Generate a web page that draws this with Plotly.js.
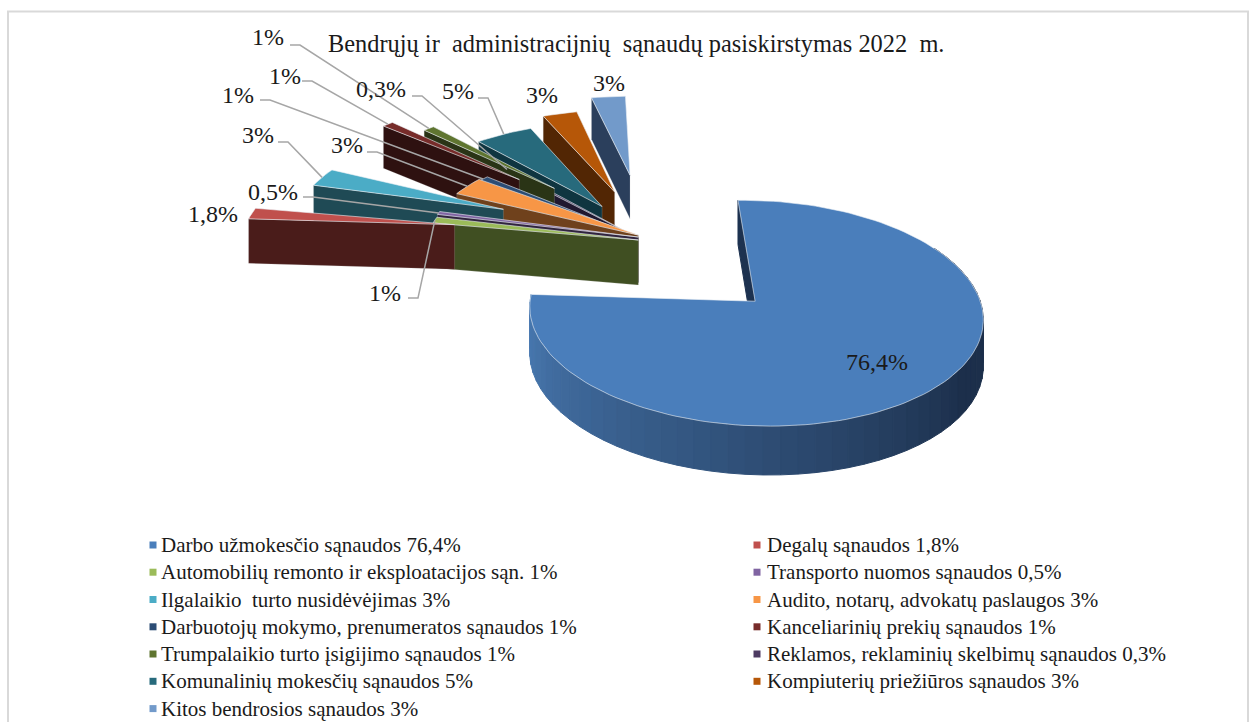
<!DOCTYPE html>
<html><head><meta charset="utf-8">
<script src="https://cdn.plot.ly/plotly-3.0.1.min.js"></script>
<style>html,body{margin:0;padding:0;background:#fff;overflow:hidden}#c{width:1256px;height:722px}</style>
</head><body><div id="c"></div>
<script>
const categories = ["Darbo užmokesčio sąnaudos","Degalų sąnaudos","Automobilių remonto ir eksploatacijos sąn.","Transporto nuomos sąnaudos","Ilgalaikio\u00a0 turto nusidėvėjimas","Audito, notarų, advokatų paslaugos","Darbuotojų mokymo, prenumeratos sąnaudos","Kanceliarinių prekių sąnaudos","Trumpalaikio turto įsigijimo sąnaudos","Reklamos, reklaminių skelbimų sąnaudos","Komunalinių mokesčių sąnaudos","Kompiuterių priežiūros sąnaudos","Kitos bendrosios sąnaudos"];
const values = [76.4,1.8,1,0.5,3,3,1,1,1,0.3,5,3,3];
const valueLabels = ["76,4%","1,8%","1%","0,5%","3%","3%","1%","1%","1%","0,3%","5%","3%","3%"];
const topColors = ["#4a7ebb","#c0504d","#9bbb59","#8064a2","#4bacc6","#f79646","#2c4d75","#772c2a","#5f7530","#4d3b62","#276a7c","#b65708","#729aca"];
const sideColors = ["#1d3250","#4a1c1a","#404f22","#30243e","#1f4a55","#6f411c","#1a2c44","#2e1110","#2a3416","#201830","#0f3540","#522604","#2b3f5c"];
// explosion of each slice on the pie's plane (radius units), like a 2-D "pull"
const explodeU = [0.547,-0.85,0.03,0.03,-0.626,0.03,0.03,-0.566,-0.386,0.03,-0.146,-0.086,-0.01];
const explodeV = [-0.5825,0.157,0,0.03,0.32,0.05,0.03,0.65,0.55,0.02,0.35,0.51,0.70];
// data-label anchor and leader-line start (null = no leader)
const labelX = [877,213,385,273,258,347,238,285,268,381,458,542,609];
const labelY = [362,214,293,192,135,145,95,76,37,89,91,95,83];
const leaderX = [null,null,408,303,278,367,260,302,290,412,478,null,null];
const leaderY = [null,null,298,197,142,152,100,81,45,96,98,null,null];
const leaderStep = 10;

const serif = '"Liberation Serif","Times New Roman",serif';
const Cx=632, Cy=240, A=212, B=99, k=0.1, D0=45, firstAngle=-1.5;
const rad=d=>d*Math.PI/180;
function proj(u,V,z){const s=1/(1+k*V);return [Cx+A*u*s, Cy-B*V*s+(z||0)*D0/(1+0.05*V)];}
function arcPt(i,deg,z){return proj(explodeU[i]+Math.sin(rad(deg)),explodeV[i]+Math.cos(rad(deg)),z);}
function apex(i,z){return proj(explodeU[i],explodeV[i],z);}
function lerpHex(a,b,t){const pa=[1,3,5].map(j=>parseInt(a.substr(j,2),16)),pb=[1,3,5].map(j=>parseInt(b.substr(j,2),16));
  return 'rgb('+pa.map((v,j)=>Math.round(v+(pb[j]-v)*t)).join(',')+')';}
function poly(pts,color,line,w){return {type:'scatter',mode:'lines',x:pts.map(p=>p[0]).concat(pts[0][0]),y:pts.map(p=>p[1]).concat(pts[0][1]),
  fill:'toself',fillcolor:color,line:{color:line||color,width:w==null?1:w},hoverinfo:'skip',showlegend:false};}

let ang=firstAngle; const starts=[],ends=[];
values.forEach((v)=>{starts.push(ang);ang+=v*3.6;ends.push(ang);});
const traces=[];
function topFace(i){const pts=[apex(i)];const n=Math.max(2,Math.ceil((ends[i]-starts[i])/2));
  for(let j=0;j<=n;j++)pts.push(arcPt(i,starts[i]+(ends[i]-starts[i])*j/n));
  return poly(pts,topColors[i],'rgba(235,240,245,0.75)',0.8);}
// small slices back to front
for(let i=values.length-1;i>=1;i--){
  const a0=apex(i),a1=apex(i,1),s0=arcPt(i,starts[i]),s1=arcPt(i,starts[i],1);
  traces.push(poly([a0,s0,s1,a1],sideColors[i],'rgba(200,200,200,0.35)',0.6));
  traces.push(topFace(i));
}
// main slice: start-edge wall, shaded rim, top
{const a0=apex(0),a1=apex(0,1),s0=arcPt(0,starts[0]),s1=arcPt(0,starts[0],1);
 traces.push(poly([a0,s0,s1,a1],sideColors[0]));
 const step=4; for(let d=ends[0];d>60;d-=step){const d2=Math.max(d-step,60);
  const t=Math.min(1,Math.max(0,(ends[0]-d)/(ends[0]-125)));
  const col=lerpHex('#4a7cb5','#1c2f4b',t);
  traces.push(poly([arcPt(0,d),arcPt(0,d2),arcPt(0,d2,1),arcPt(0,d,1)],col));}
 traces.push(topFace(0));}
// leaders
values.forEach((v,i)=>{ if(leaderX[i]===null)return; const m=arcPt(i,(starts[i]+ends[i])/2);
  traces.push({type:'scatter',mode:'lines',x:[leaderX[i],leaderX[i]+leaderStep,m[0]],y:[leaderY[i],leaderY[i],m[1]],
   line:{color:'#a6a6a6',width:1.5},hoverinfo:'skip',showlegend:false});});
// legend
const colX=[153,757], rowY=[545,572.2,599.5,626.8,654,681.3,708.6], textX=[159,765];
const legX=[],legY=[]; const annotations=[];
categories.forEach((c,i)=>{const col=i%2,row=(i-col)/2; legX.push(colX[col]);legY.push(rowY[row]);
 annotations.push({x:textX[col],y:rowY[row],xref:'x',yref:'y',text:c+' '+valueLabels[i],showarrow:false,xanchor:'left',yanchor:'middle',font:{family:serif,size:21,color:'#1a1a1a'}});
 annotations.push({x:labelX[i],y:labelY[i],xref:'x',yref:'y',text:valueLabels[i],showarrow:false,xanchor:'center',yanchor:'middle',font:{family:serif,size:24,color:'#1a1a1a'}});});
traces.push({type:'scatter',mode:'markers',x:legX,y:legY,marker:{symbol:'square',size:7,color:topColors},hoverinfo:'skip',showlegend:false});

const layout={width:1256,height:722,margin:{l:0,r:0,t:0,b:0},paper_bgcolor:'#fff',plot_bgcolor:'#fff',showlegend:false,
 title:{text:'Bendrųjų ir\u00a0 administracijnių\u00a0 sąnaudų pasiskirstymas 2022\u00a0 m.',x:328/1256,xanchor:'left',y:1-43/722,yanchor:'middle',font:{family:serif,size:24.4,color:'#1a1a1a'}},
 xaxis:{range:[0,1256],visible:false,fixedrange:true},yaxis:{range:[722,0],visible:false,fixedrange:true},
 shapes:[{type:'rect',xref:'x',yref:'y',x0:8,y0:11.5,x1:1248,y1:730,line:{color:'#d9d9d9',width:2},fillcolor:'rgba(0,0,0,0)',layer:'below'}],
 annotations};
Plotly.newPlot('c',traces,layout,{displayModeBar:false,staticPlot:true});
</script></body></html>
